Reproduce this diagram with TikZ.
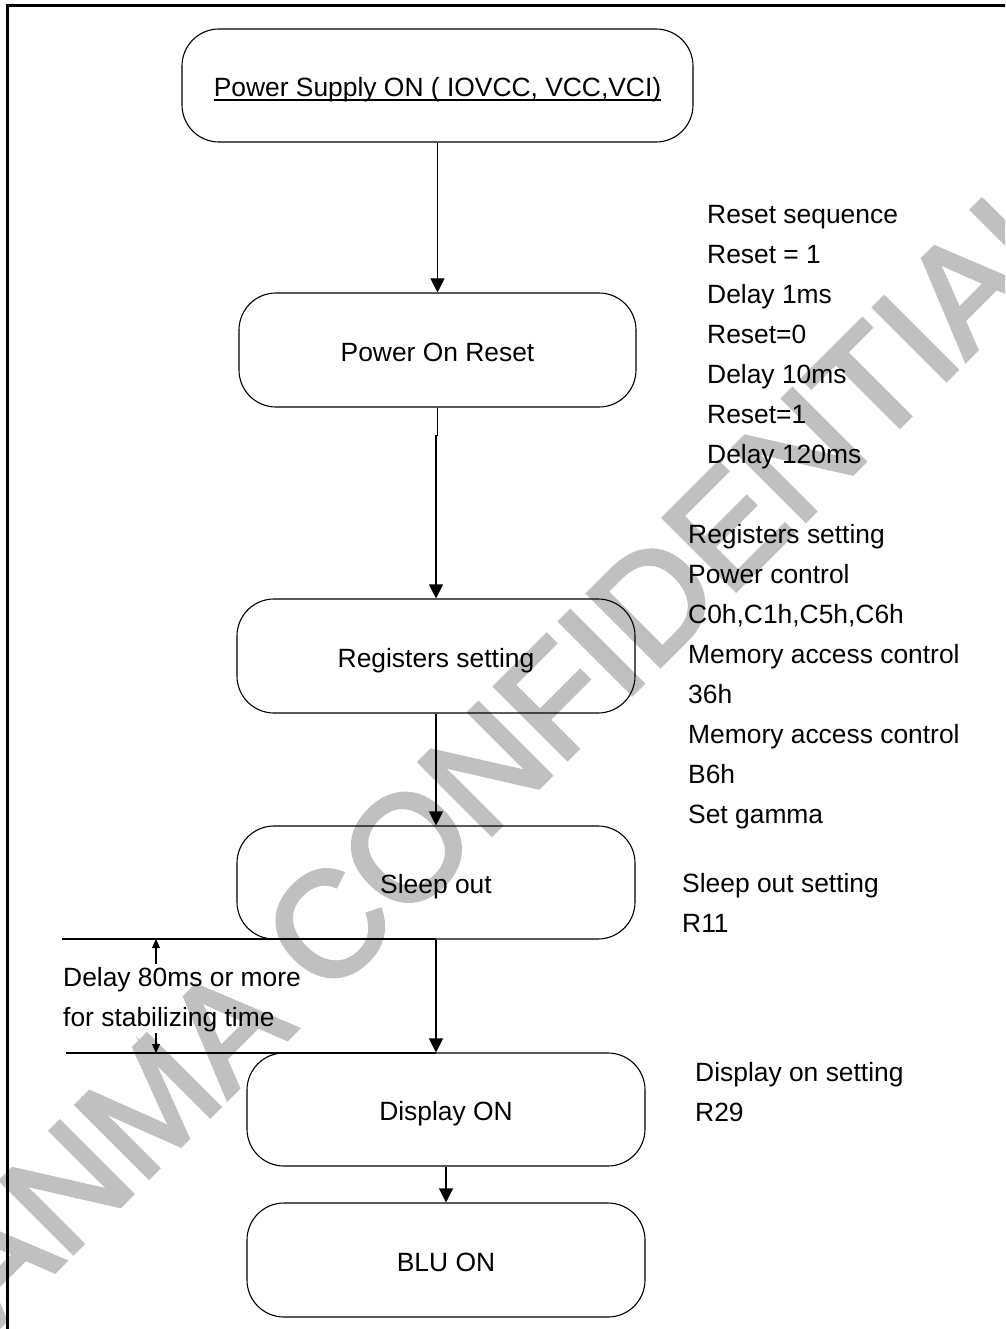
\documentclass[tikz,border=0pt]{standalone}
\usepackage{fontspec}
\setmainfont{Liberation Sans}
\newfontfamily\wmfont[FakeBold=3]{Liberation Sans}
\usetikzlibrary{arrows.meta}
\definecolor{wm}{RGB}{192,192,192}
\newcommand\txtfont{\fontsize{26.4}{40}\selectfont}
\newcommand\ulinetext[1]{\setbox0\hbox{#1}\rlap{\rule[-4.2pt]{\wd0}{1.4pt}}\box0}
\begin{document}
\begin{tikzpicture}[x=1pt,y=-1pt,
  stepbox/.style={draw, line width=1.1pt, rounded corners=37pt, rectangle, inner sep=0pt,
    text height=22pt, text depth=0pt, font=\txtfont},
  flow/.style={line width=1.1pt, -{Triangle[length=14pt,width=14pt]}},
  plain/.style={line width=1.1pt},
  small/.style={line width=1.1pt, -{Triangle[length=9pt,width=8pt]}},
  note/.style={anchor=north west, inner sep=0pt, align=left, font=\txtfont},
]
\useasboundingbox (0,0) rectangle (1005,1329);
\clip (0,0) rectangle (1005,1329);
% watermark
\node[rotate=45, text=wm, font=\wmfont\fontsize{148}{180}\selectfont, inner sep=0pt] (wmk) at (462,792) {TIANMA CONFIDENTIAL};
% frame
\draw[line width=3pt] (7,1340) -- (7,6) -- (1020,6);
% boxes
\node[stepbox, minimum width=511pt, minimum height=113pt] (ps) at (437.5,85.5) {\ulinetext{Power Supply ON ( IOVCC, VCC,VCI)}};
\node[stepbox, minimum width=397pt, minimum height=114pt] (por) at (437.5,350) {Power On Reset};
\node[stepbox, minimum width=398pt, minimum height=114pt] (reg) at (436,656) {Registers setting};
\node[stepbox, minimum width=398pt, minimum height=113pt] (slp) at (436,882.5) {Sleep out};
\node[stepbox, minimum width=398pt, minimum height=113pt] (dsp) at (446,1109.5) {Display ON};
\node[stepbox, minimum width=398pt, minimum height=114pt] (blu) at (446,1260) {BLU ON};
% connectors
\draw[flow] (ps.south) -- (por.north);
\draw[flow] (por.south) -- ++(0,28) -| (reg.north);
\draw[flow] (reg.south) -- (slp.north);
\draw[flow] (slp.south) -- (slp.south |- dsp.north);
\draw[flow] (dsp.south) -- (blu.north);
% delay markers
\coordinate (h1) at (62,939);
\coordinate (h2) at (66,1053);
\draw[plain] (h1) -- (h1 -| slp.south);
\draw[plain] (h2) -- (h2 -| slp.south);
\coordinate (u0) at (156,964);
\coordinate (d0) at (156,1033);
\draw[small] (u0) -- (u0 |- h1);
\draw[small] (d0) -- (d0 |- h2);
% notes
\node[note] (rs) at (707,195) {\strut Reset sequence\\Reset = 1\\Delay 1ms\\Reset=0\\Delay 10ms\\Reset=1\\Delay 120ms};
\node[note] (rg) at (688,515) {\strut Registers setting\\Power control\\C0h,C1h,C5h,C6h\\Memory access control\\36h\\Memory access control\\B6h\\Set gamma};
\node[note] (sn) at (682,864) {\strut Sleep out setting\\R11};
\node[note] (dn) at (695,1053) {\strut Display on setting\\R29};
\node[note] (dl) at (63,958) {\strut Delay 80ms or more\\for stabilizing time};
\end{tikzpicture}
\end{document}
